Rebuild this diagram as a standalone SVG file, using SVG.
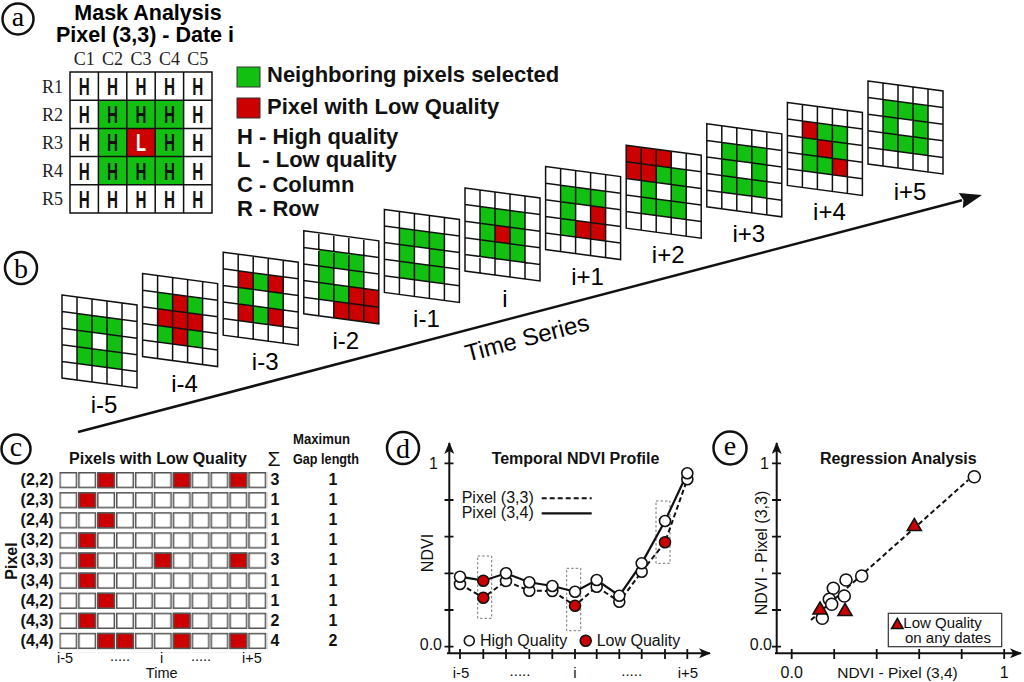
<svg xmlns="http://www.w3.org/2000/svg" xmlns:xlink="http://www.w3.org/1999/xlink" width="1024" height="682" viewBox="0 0 1024 682">
<style>
.sans{font-family:"Liberation Sans",Arial,sans-serif}
.b{font-weight:bold}
.serif{font-family:"Liberation Serif","Times New Roman",serif}
.g{fill:#12c012}
.r{fill:#cc0000}
.gl{fill:none;stroke:#111;stroke-width:1.5}
.lab{fill:#fff;stroke:#111;stroke-width:2.5}
.ax{stroke:#111;stroke-width:2;fill:none}
.tk{stroke:#111;stroke-width:1.8}
.hq{fill:#fff;stroke:#111;stroke-width:1.6}
.lq{fill:#cc0000;stroke:#111;stroke-width:1.6}
.box{fill:none;stroke:#777;stroke-width:1;stroke-dasharray:2.5,2}
</style>
<defs>
<rect id="c" width="15" height="16.6"/>
<path id="grid" class="gl" d="M0,0H75V83H0Z M15,0V83 M30,0V83 M45,0V83 M60,0V83 M0,16.6H75 M0,33.2H75 M0,49.8H75 M0,66.4H75"/>
<g id="ring" class="g">
<use xlink:href="#c" x="15" y="16.6"/><use xlink:href="#c" x="30" y="16.6"/><use xlink:href="#c" x="45" y="16.6"/>
<use xlink:href="#c" x="15" y="33.2"/><use xlink:href="#c" x="45" y="33.2"/>
<use xlink:href="#c" x="15" y="49.8"/><use xlink:href="#c" x="30" y="49.8"/><use xlink:href="#c" x="45" y="49.8"/>
</g>
<pattern id="cellpat" x="59.3" y="472" width="18.9" height="20.1" patternUnits="userSpaceOnUse">
<rect x="0.75" y="0.75" width="16.5" height="14.8" fill="#fff" stroke="#555" stroke-width="1.5"/>
</pattern>
<marker id="ah" viewBox="0 0 12 10" refX="11" refY="5" markerWidth="12" markerHeight="10" markerUnits="userSpaceOnUse" orient="auto">
<path d="M0,0 L12,5 L0,10 L3,5 Z" fill="#111"/>
</marker>
</defs>
<rect width="1024" height="682" fill="#fff"/>

<!-- panel labels -->
<g id="label-a"><circle class="lab" cx="18" cy="19" r="15.5"/><text class="serif" x="18" y="26" font-size="28" text-anchor="middle">a</text></g>
<g id="label-b"><circle class="lab" cx="21" cy="268" r="16"/><text class="serif" x="21" y="278" font-size="28" text-anchor="middle">b</text></g>
<g id="label-c"><circle class="lab" cx="16" cy="449" r="14.5"/><text class="serif" x="16" y="456" font-size="28" text-anchor="middle">c</text></g>
<g id="label-d"><circle class="lab" cx="403" cy="448" r="16"/><text class="serif" x="403" y="458" font-size="28" text-anchor="middle">d</text></g>
<g id="label-e"><circle class="lab" cx="730" cy="448" r="16.5"/><text class="serif" x="730" y="455" font-size="28" text-anchor="middle">e</text></g>

<!-- panel a -->
<g id="mask-analysis">
<text class="sans b" x="148" y="20" font-size="21.5" text-anchor="middle">Mask Analysis</text>
<text class="sans b" x="145" y="42" font-size="21.5" text-anchor="middle">Pixel (3,3) - Date i</text>
<g class="serif" font-size="18" text-anchor="middle" fill="#222">
<text x="84.2" y="65">C1</text><text x="112.6" y="65">C2</text><text x="141" y="65">C3</text><text x="169.4" y="65">C4</text><text x="197.8" y="65">C5</text>
<text x="52.5" y="92.6">R1</text><text x="52.5" y="120.8">R2</text><text x="52.5" y="149">R3</text><text x="52.5" y="177.2">R4</text><text x="52.5" y="205.4">R5</text>
</g>
<rect x="70" y="72" width="142" height="141" fill="#fff"/>
<rect class="g" x="98.4" y="100.2" width="85.2" height="84.6"/>
<rect class="r" x="126.8" y="128.4" width="28.4" height="28.2"/>
<path class="gl" stroke-width="1.6" d="M70,72H212V213H70Z M98.4,72V213 M126.8,72V213 M155.2,72V213 M183.6,72V213 M70,100.2H212 M70,128.4H212 M70,156.6H212 M70,184.8H212"/>
<g class="sans b" font-size="24" text-anchor="middle" fill="#111">
<text x="84.2" y="95" textLength="11" lengthAdjust="spacingAndGlyphs">H</text><text x="112.6" y="95" textLength="11" lengthAdjust="spacingAndGlyphs">H</text><text x="141" y="95" textLength="11" lengthAdjust="spacingAndGlyphs">H</text><text x="169.4" y="95" textLength="11" lengthAdjust="spacingAndGlyphs">H</text><text x="197.8" y="95" textLength="11" lengthAdjust="spacingAndGlyphs">H</text>
<text x="84.2" y="123.2" textLength="11" lengthAdjust="spacingAndGlyphs">H</text><text x="112.6" y="123.2" textLength="11" lengthAdjust="spacingAndGlyphs">H</text><text x="141" y="123.2" textLength="11" lengthAdjust="spacingAndGlyphs">H</text><text x="169.4" y="123.2" textLength="11" lengthAdjust="spacingAndGlyphs">H</text><text x="197.8" y="123.2" textLength="11" lengthAdjust="spacingAndGlyphs">H</text>
<text x="84.2" y="151.4" textLength="11" lengthAdjust="spacingAndGlyphs">H</text><text x="112.6" y="151.4" textLength="11" lengthAdjust="spacingAndGlyphs">H</text><text x="141" y="151.4" textLength="10" lengthAdjust="spacingAndGlyphs" fill="#fff">L</text><text x="169.4" y="151.4" textLength="11" lengthAdjust="spacingAndGlyphs">H</text><text x="197.8" y="151.4" textLength="11" lengthAdjust="spacingAndGlyphs">H</text>
<text x="84.2" y="179.6" textLength="11" lengthAdjust="spacingAndGlyphs">H</text><text x="112.6" y="179.6" textLength="11" lengthAdjust="spacingAndGlyphs">H</text><text x="141" y="179.6" textLength="11" lengthAdjust="spacingAndGlyphs">H</text><text x="169.4" y="179.6" textLength="11" lengthAdjust="spacingAndGlyphs">H</text><text x="197.8" y="179.6" textLength="11" lengthAdjust="spacingAndGlyphs">H</text>
<text x="84.2" y="207.8" textLength="11" lengthAdjust="spacingAndGlyphs">H</text><text x="112.6" y="207.8" textLength="11" lengthAdjust="spacingAndGlyphs">H</text><text x="141" y="207.8" textLength="11" lengthAdjust="spacingAndGlyphs">H</text><text x="169.4" y="207.8" textLength="11" lengthAdjust="spacingAndGlyphs">H</text><text x="197.8" y="207.8" textLength="11" lengthAdjust="spacingAndGlyphs">H</text>
</g>
</g>

<!-- legend -->
<g id="legend-a" class="sans b" font-size="22" fill="#111">
<rect class="g" x="237" y="67" width="23" height="20" stroke="#333" stroke-width="1"/>
<text x="267" y="82">Neighboring pixels selected</text>
<rect class="r" x="237" y="98" width="23" height="20" stroke="#333" stroke-width="1"/>
<text x="267" y="113.5">Pixel with Low Quality</text>
<text x="237" y="143.5">H - High quality</text>
<text x="237" y="167" xml:space="preserve">L  - Low quality</text>
<text x="237" y="192">C - Column</text>
<text x="237" y="215.5">R - Row</text>
</g>

<!-- connectors -->
<g id="connectors">
<line x1="78" y1="432" x2="962" y2="200.3" stroke="#111" stroke-width="2.5"/>
<path d="M982,195 L958.7,192.9 L963.5,200.1 L962.7,208.3 Z" fill="#111"/>
</g>
<text class="sans" x="527" y="346" font-size="24" text-anchor="middle" transform="rotate(-14.7 527 338)">Time Series</text>

<!-- time series frames -->
<g id="frame-i-5"><g transform="matrix(1 0.1333 0 1 62 295)"><rect width="75" height="83" fill="#fff"/><use xlink:href="#ring"/><use xlink:href="#grid"/></g>
<text class="sans" x="104" y="413" font-size="24" text-anchor="middle">i-5</text></g>

<g id="frame-i-4"><g transform="matrix(1 0.1333 0 1 142.6 273.6)"><rect width="75" height="83" fill="#fff"/>
<use xlink:href="#c" x="15" y="16.6" class="g"/><use xlink:href="#c" x="30" y="16.6" class="r"/><use xlink:href="#c" x="45" y="16.6" class="g"/>
<use xlink:href="#c" x="15" y="33.2" class="r"/><use xlink:href="#c" x="30" y="33.2" class="r"/><use xlink:href="#c" x="45" y="33.2" class="r"/>
<use xlink:href="#c" x="15" y="49.8" class="g"/><use xlink:href="#c" x="30" y="49.8" class="r"/><use xlink:href="#c" x="45" y="49.8" class="g"/>
<use xlink:href="#grid"/></g>
<text class="sans" x="184.6" y="391.6" font-size="24" text-anchor="middle">i-4</text></g>

<g id="frame-i-3"><g transform="matrix(1 0.1333 0 1 223.2 252.2)"><rect width="75" height="83" fill="#fff"/>
<use xlink:href="#c" x="15" y="16.6" class="r"/><use xlink:href="#c" x="30" y="16.6" class="g"/><use xlink:href="#c" x="45" y="16.6" class="r"/>
<use xlink:href="#c" x="15" y="33.2" class="g"/><use xlink:href="#c" x="45" y="33.2" class="g"/>
<use xlink:href="#c" x="15" y="49.8" class="r"/><use xlink:href="#c" x="30" y="49.8" class="g"/><use xlink:href="#c" x="45" y="49.8" class="r"/>
<use xlink:href="#grid"/></g>
<text class="sans" x="265.2" y="370.2" font-size="24" text-anchor="middle">i-3</text></g>

<g id="frame-i-2"><g transform="matrix(1 0.1333 0 1 303.8 230.8)"><rect width="75" height="83" fill="#fff"/>
<use xlink:href="#c" x="15" y="16.6" class="g"/><use xlink:href="#c" x="30" y="16.6" class="g"/><use xlink:href="#c" x="45" y="16.6" class="g"/>
<use xlink:href="#c" x="15" y="33.2" class="g"/><use xlink:href="#c" x="45" y="33.2" class="g"/>
<use xlink:href="#c" x="15" y="49.8" class="g"/><use xlink:href="#c" x="30" y="49.8" class="g"/><use xlink:href="#c" x="45" y="49.8" class="r"/><use xlink:href="#c" x="60" y="49.8" class="r"/>
<use xlink:href="#c" x="30" y="66.4" class="r"/><use xlink:href="#c" x="45" y="66.4" class="r"/><use xlink:href="#c" x="60" y="66.4" class="r"/>
<use xlink:href="#grid"/></g>
<text class="sans" x="345.8" y="348.8" font-size="24" text-anchor="middle">i-2</text></g>

<g id="frame-i-1"><g transform="matrix(1 0.1333 0 1 384.4 209.4)"><rect width="75" height="83" fill="#fff"/><use xlink:href="#ring"/><use xlink:href="#grid"/></g>
<text class="sans" x="426.4" y="327.4" font-size="24" text-anchor="middle">i-1</text></g>

<g id="frame-i"><g transform="matrix(1 0.1333 0 1 465 188)"><rect width="75" height="83" fill="#fff"/><use xlink:href="#ring"/><use xlink:href="#c" x="30" y="33.2" class="r"/><use xlink:href="#grid"/></g>
<text class="sans" x="505" y="307" font-size="24" text-anchor="middle">i</text></g>

<g id="frame-i+1"><g transform="matrix(1 0.1333 0 1 545.6 166.6)"><rect width="75" height="83" fill="#fff"/>
<use xlink:href="#c" x="15" y="16.6" class="g"/><use xlink:href="#c" x="30" y="16.6" class="g"/><use xlink:href="#c" x="45" y="16.6" class="g"/>
<use xlink:href="#c" x="15" y="33.2" class="g"/><use xlink:href="#c" x="45" y="33.2" class="r"/>
<use xlink:href="#c" x="15" y="49.8" class="g"/><use xlink:href="#c" x="30" y="49.8" class="r"/><use xlink:href="#c" x="45" y="49.8" class="r"/>
<use xlink:href="#grid"/></g>
<text class="sans" x="587.6" y="284.6" font-size="24" text-anchor="middle">i+1</text></g>

<g id="frame-i+2"><g transform="matrix(1 0.1333 0 1 626.2 145.2)"><rect width="75" height="83" fill="#fff"/>
<use xlink:href="#c" x="0" y="0" class="r"/><use xlink:href="#c" x="15" y="0" class="r"/><use xlink:href="#c" x="30" y="0" class="r"/>
<use xlink:href="#c" x="0" y="16.6" class="r"/><use xlink:href="#c" x="15" y="16.6" class="r"/><use xlink:href="#c" x="30" y="16.6" class="g"/><use xlink:href="#c" x="45" y="16.6" class="g"/>
<use xlink:href="#c" x="15" y="33.2" class="g"/><use xlink:href="#c" x="45" y="33.2" class="g"/>
<use xlink:href="#c" x="15" y="49.8" class="g"/><use xlink:href="#c" x="30" y="49.8" class="g"/><use xlink:href="#c" x="45" y="49.8" class="g"/>
<use xlink:href="#grid"/></g>
<text class="sans" x="668.2" y="263.2" font-size="24" text-anchor="middle">i+2</text></g>

<g id="frame-i+3"><g transform="matrix(1 0.1333 0 1 706.8 123.8)"><rect width="75" height="83" fill="#fff"/><use xlink:href="#ring"/><use xlink:href="#grid"/></g>
<text class="sans" x="748.8" y="241.8" font-size="24" text-anchor="middle">i+3</text></g>

<g id="frame-i+4"><g transform="matrix(1 0.1333 0 1 787.4 102.4)"><rect width="75" height="83" fill="#fff"/>
<use xlink:href="#c" x="15" y="16.6" class="r"/><use xlink:href="#c" x="30" y="16.6" class="g"/><use xlink:href="#c" x="45" y="16.6" class="g"/>
<use xlink:href="#c" x="15" y="33.2" class="g"/><use xlink:href="#c" x="30" y="33.2" class="r"/><use xlink:href="#c" x="45" y="33.2" class="g"/>
<use xlink:href="#c" x="15" y="49.8" class="g"/><use xlink:href="#c" x="30" y="49.8" class="g"/><use xlink:href="#c" x="45" y="49.8" class="r"/>
<use xlink:href="#grid"/></g>
<text class="sans" x="829.4" y="220.4" font-size="24" text-anchor="middle">i+4</text></g>

<g id="frame-i+5"><g transform="matrix(1 0.1333 0 1 868 81)"><rect width="75" height="83" fill="#fff"/><use xlink:href="#ring"/><use xlink:href="#grid"/></g>
<text class="sans" x="910" y="200" font-size="24" text-anchor="middle">i+5</text></g>

<!-- panel c -->
<g id="panel-c" class="sans" fill="#111">
<text class="b" x="158" y="463.5" font-size="16" text-anchor="middle">Pixels with Low Quality</text>
<text x="274" y="466" font-size="21" text-anchor="middle">Σ</text>
<text class="b" x="293" y="444" font-size="15" textLength="57" lengthAdjust="spacingAndGlyphs">Maximun</text>
<text class="b" x="293" y="463.5" font-size="15" textLength="66" lengthAdjust="spacingAndGlyphs">Gap length</text>
<rect x="59.3" y="472" width="207.9" height="180.9" fill="url(#cellpat)"/>
<g class="r" stroke="#555" stroke-width="1.5">
<rect x="97.85" y="472.75" width="16.5" height="14.8"/><rect x="173.45" y="472.75" width="16.5" height="14.8"/><rect x="230.15" y="472.75" width="16.5" height="14.8"/>
<rect x="78.95" y="492.85" width="16.5" height="14.8"/>
<rect x="97.85" y="512.95" width="16.5" height="14.8"/>
<rect x="78.95" y="533.05" width="16.5" height="14.8"/>
<rect x="78.95" y="553.15" width="16.5" height="14.8"/><rect x="154.55" y="553.15" width="16.5" height="14.8"/><rect x="230.15" y="553.15" width="16.5" height="14.8"/>
<rect x="78.95" y="573.25" width="16.5" height="14.8"/>
<rect x="97.85" y="593.35" width="16.5" height="14.8"/>
<rect x="78.95" y="613.45" width="16.5" height="14.8"/><rect x="173.45" y="613.45" width="16.5" height="14.8"/>
<rect x="97.85" y="633.55" width="16.5" height="14.8"/><rect x="116.75" y="633.55" width="16.5" height="14.8"/><rect x="173.45" y="633.55" width="16.5" height="14.8"/><rect x="230.15" y="633.55" width="16.5" height="14.8"/>
</g>
<g class="b" font-size="16" text-anchor="end">
<text x="53.5" y="485">(2,2)</text><text x="53.5" y="505.1">(2,3)</text><text x="53.5" y="525.2">(2,4)</text><text x="53.5" y="545.3">(3,2)</text><text x="53.5" y="565.4">(3,3)</text><text x="53.5" y="585.5">(3,4)</text><text x="53.5" y="605.6">(4,2)</text><text x="53.5" y="625.7">(4,3)</text><text x="53.5" y="645.8">(4,4)</text>
</g>
<g class="b" font-size="16" text-anchor="middle">
<text x="275" y="485">3</text><text x="275" y="505.1">1</text><text x="275" y="525.2">1</text><text x="275" y="545.3">1</text><text x="275" y="565.4">3</text><text x="275" y="585.5">1</text><text x="275" y="605.6">1</text><text x="275" y="625.7">2</text><text x="275" y="645.8">4</text>
<text x="333" y="485">1</text><text x="333" y="505.1">1</text><text x="333" y="525.2">1</text><text x="333" y="545.3">1</text><text x="333" y="565.4">1</text><text x="333" y="585.5">1</text><text x="333" y="605.6">1</text><text x="333" y="625.7">1</text><text x="333" y="645.8">2</text>
</g>
<text class="b" x="17" y="561" font-size="16" text-anchor="middle" transform="rotate(-90 17 561)">Pixel</text>
<g font-size="14.5" text-anchor="middle">
<text x="65" y="663">i-5</text><text x="120" y="660.5">.....</text><text x="161.7" y="663">i</text><text x="201" y="660.5">.....</text><text x="252" y="663">i+5</text>
<text x="161.7" y="678">Time</text>
</g>
</g>

<!-- panel d -->
<g id="panel-d" class="sans" fill="#111">
<text class="b" x="575.5" y="463.5" font-size="16" text-anchor="middle">Temporal NDVI Profile</text>
<line class="ax" x1="449.3" y1="654" x2="449.3" y2="443" marker-end="url(#ah)"/>
<line class="ax" x1="447" y1="653.3" x2="710" y2="653.3" marker-end="url(#ah)"/>
<path class="tk" d="M444.5,463.3H453.5 M444.5,500H453.5 M444.5,536.7H453.5 M444.5,573.3H453.5 M444.5,610H453.5 M444.5,646.7H453.5"/>
<path class="tk" d="M460,649V659 M483.3,649V659 M506,649V659 M529.3,649V659 M552.3,649V659 M575,649V659 M596.7,649V659 M619.3,649V659 M641.7,649V659 M665,649V659 M687.3,649V659"/>
<text x="438" y="468.5" font-size="16" text-anchor="end">1</text>
<text x="442" y="650" font-size="16" text-anchor="end">0.0</text>
<text x="433" y="553" font-size="16" text-anchor="middle" transform="rotate(-90 433 553)">NDVI</text>
<g font-size="15" text-anchor="middle">
<text x="461" y="678">i-5</text><text x="520" y="676">.....</text><text x="575" y="678">i</text><text x="631.7" y="676">.....</text><text x="688" y="678">i+5</text>
</g>
<text x="461.7" y="503" font-size="16">Pixel (3,3)</text>
<line x1="541.7" y1="498.3" x2="591.7" y2="498.3" stroke="#111" stroke-width="2" stroke-dasharray="5,3"/>
<text x="461.7" y="518" font-size="16">Pixel (3,4)</text>
<line x1="541.7" y1="513.3" x2="591.7" y2="513.3" stroke="#111" stroke-width="2.2"/>
<rect class="box" x="477.7" y="556" width="14" height="62.3"/>
<rect class="box" x="566.7" y="568.3" width="14" height="62.4"/>
<rect class="box" x="656" y="501" width="14" height="62.3"/>
<polyline fill="none" stroke="#111" stroke-width="2" stroke-dasharray="5,3" points="460,584 483.3,597.7 506,581 529.3,590.7 552.3,591 575,605.7 596.7,586.7 619.3,601.7 641.7,571.7 665,542.3 687.3,479.3"/>
<polyline fill="none" stroke="#111" stroke-width="2.2" points="460,576.7 483.3,580.7 506,573.3 529.3,582.3 552.3,586 575,591.7 596.7,580 619.3,595.7 641.7,563.3 665,521 687.3,473.3"/>
<g class="hq">
<circle cx="460" cy="584" r="5.5"/><circle cx="506" cy="581" r="5.5"/><circle cx="529.3" cy="590.7" r="5.5"/><circle cx="552.3" cy="591" r="5.5"/><circle cx="596.7" cy="586.7" r="5.5"/><circle cx="619.3" cy="601.7" r="5.5"/><circle cx="641.7" cy="571.7" r="5.5"/><circle cx="687.3" cy="479.3" r="5.5"/>
<circle cx="460" cy="576.7" r="5.5"/><circle cx="506" cy="573.3" r="5.5"/><circle cx="529.3" cy="582.3" r="5.5"/><circle cx="552.3" cy="586" r="5.5"/><circle cx="575" cy="591.7" r="5.5"/><circle cx="596.7" cy="580" r="5.5"/><circle cx="619.3" cy="595.7" r="5.5"/><circle cx="641.7" cy="563.3" r="5.5"/><circle cx="665" cy="521" r="5.5"/><circle cx="687.3" cy="473.3" r="5.5"/>
</g>
<g class="lq">
<circle cx="483.3" cy="580.7" r="5.5"/><circle cx="483.3" cy="597.7" r="5.5"/><circle cx="575" cy="605.7" r="5.5"/><circle cx="665" cy="542.3" r="5.5"/>
</g>
<circle class="hq" cx="469.3" cy="640.7" r="5"/>
<text x="480" y="646" font-size="16">High Quality</text>
<circle class="lq" cx="585.7" cy="640.7" r="5.5"/>
<text x="596.7" y="646" font-size="16">Low Quality</text>
</g>

<!-- panel e -->
<g id="panel-e" class="sans" fill="#111">
<text class="b" x="898.3" y="463.5" font-size="16" text-anchor="middle">Regression Analysis</text>
<line class="ax" x1="776.7" y1="654" x2="776.7" y2="443" marker-end="url(#ah)"/>
<line class="ax" x1="775" y1="653.3" x2="1021" y2="653.3" marker-end="url(#ah)"/>
<path class="tk" d="M772,463.3H781 M772,500H781 M772,536.7H781 M772,573.3H781 M772,610H781 M772,646.7H781"/>
<path class="tk" d="M791.7,649V659 M834.2,649V659 M876.7,649V659 M919.2,649V659 M961.7,649V659 M1004.2,649V659"/>
<text x="769" y="468.5" font-size="16" text-anchor="end">1</text>
<text x="772" y="650" font-size="16" text-anchor="end">0.0</text>
<text x="767" y="553" font-size="16" text-anchor="middle" transform="rotate(-90 767 553)">NDVI - Pixel (3,3)</text>
<text x="791.7" y="678" font-size="16" text-anchor="middle">0.0</text>
<text x="897.5" y="678" font-size="15.5" text-anchor="middle">NDVI - Pixel (3,4)</text>
<text x="1004.2" y="678" font-size="16" text-anchor="middle">1</text>
<line x1="811" y1="620" x2="968.3" y2="480" stroke="#111" stroke-width="2" stroke-dasharray="5,3"/>
<g class="hq">
<circle cx="974.3" cy="476.7" r="6"/><circle cx="861.7" cy="576" r="6"/><circle cx="846" cy="580" r="6"/><circle cx="833.3" cy="588.3" r="6"/><circle cx="829.3" cy="599.3" r="6"/><circle cx="844.3" cy="596" r="6"/><circle cx="831.7" cy="604.3" r="6"/><circle cx="822.3" cy="618.3" r="6"/>
</g>
<g class="lq" stroke-width="1.2">
<path d="M914.3,518.5 L921.3,530.5 L907.3,530.5 Z"/>
<path d="M820,602 L827,614 L813,614 Z"/>
<path d="M845,603.5 L852,615.5 L838,615.5 Z"/>
</g>
<rect x="888.3" y="613.3" width="113.4" height="33.4" fill="#fff" stroke="#333" stroke-width="1.2"/>
<path class="lq" stroke-width="1" d="M897.3,618.5 L903,628.5 L891.6,628.5 Z"/>
<text x="903.3" y="628" font-size="15">Low Quality</text>
<text x="905" y="643" font-size="15">on any dates</text>
</g>
</svg>
